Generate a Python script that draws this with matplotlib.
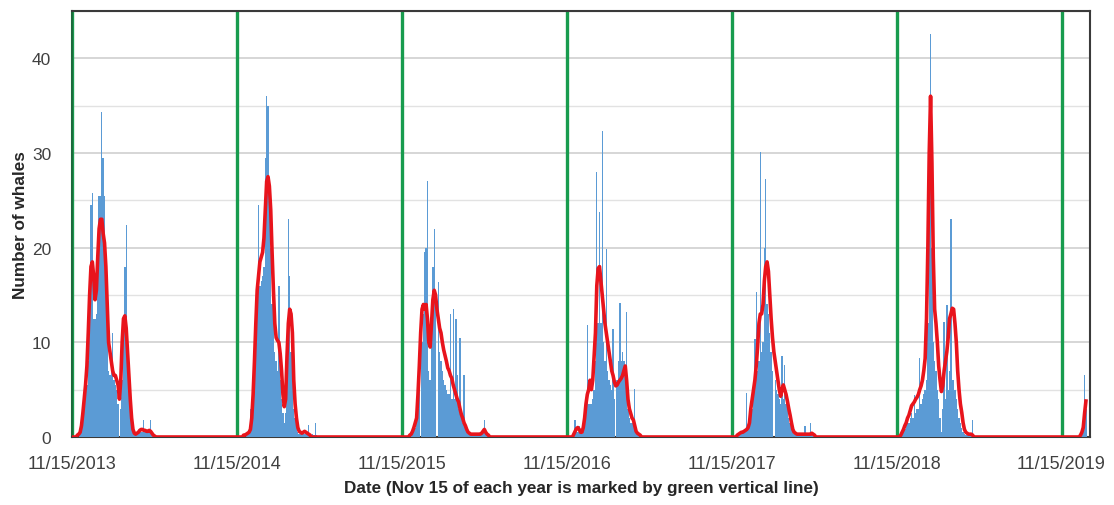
import numpy as np
import matplotlib
matplotlib.use('Agg')
import matplotlib.pyplot as plt
import matplotlib.dates as mdates
from matplotlib.ticker import MultipleLocator

# Whale counts, one value every 3 days.
# Each season starts at Nov 15 of its year plus "first day" offset.
season_years = [2013, 2014, 2015, 2016, 2017, 2018, 2019]
blue_first_day = [12, 15, 18, 15, 12, 9, 42]
red_first_day = [12, 15, 18, 15, 12, 9, 42]
step_days = 3

blue_2013 = [0, 0, 0.3, 1, 2, 3, 4, 5.5, 8, 12, 24.5, 25.8, 12.5, 12.5, 13, 16, 25.5, 25.5,
             34.3, 29.5, 25.5, 17, 12, 7, 6.5, 8, 11, 6, 5.5, 5, 3.5, 0, 3, 6, 12, 18, 22.4,
             7.5, 5, 2.5, 1, 0.5, 0.2, 0.2, 0.3, 0.5, 0.5, 0.5, 0.5, 1.8, 0.5, 0.5, 0.5, 0.5,
             1.8, 0.3, 0.2, 0]
red_2013 = [0.2, 0.3, 0.5, 1.2, 2.5, 4, 5.5, 7.5, 11, 15, 18, 18.5, 17, 14.5, 15.5, 19, 22, 23,
            23, 21.5, 20.5, 18, 14, 10, 9, 8, 7, 6.5, 6.5, 6, 5.5, 4, 6, 10, 12.5, 12.8, 11.5,
            9, 6.5, 4, 2, 0.8, 0.4, 0.3, 0.4, 0.5, 0.7, 0.8, 0.8, 0.7, 0.7, 0.6, 0.6, 0.7, 0.6,
            0.4, 0.2, 0.1]

blue_2014 = [0, 0, 0.2, 0.2, 0.5, 3, 1.5, 3.5, 6, 10, 16, 24.5, 16, 16.5, 17, 18, 29.5, 36, 35,
             26, 20, 14, 12, 9, 8, 7, 16, 6, 4, 2.5, 1.5, 2.5, 6, 23, 17, 9, 6, 3, 2, 1, 0.5,
             0.3, 0.3, 0.3, 0.3, 0.3, 0.3, 0.3, 1.3, 0.2, 0.2, 0.3, 0.2, 1.5, 0.2]
red_2014 = [0.2, 0.2, 0.3, 0.4, 0.5, 0.8, 2, 4.5, 8, 12, 15.5, 17, 18.5, 19, 19.5, 21, 24, 27,
            27.5, 26.5, 24, 19.5, 15.5, 12, 10.5, 10.2, 10, 8.8, 7, 4.5, 3.2, 4, 8.5, 12, 13.5,
            13, 11, 6, 3.5, 2, 1, 0.6, 0.5, 0.4, 0.5, 0.6, 0.5, 0.4, 0.3, 0.2]

blue_2015 = [0, 0.2, 0.3, 0.8, 1, 1.5, 3, 5, 0, 10, 13, 19.5, 20, 27, 7, 6, 10, 18, 22, 14, 0,
             16.4, 9, 8, 7, 6, 5.5, 5, 4.5, 4.5, 13, 4, 13.5, 4, 12.5, 6.5, 3, 10.5, 2, 1.5,
             6.5, 1, 0.5, 0.3, 0.2, 0.2, 0.2, 0.2, 0.2, 0.2, 0.2, 0.2, 0.3, 0.3, 0.4, 1.8, 0.3,
             0.2, 0]
red_2015 = [0.2, 0.3, 0.6, 1, 1.5, 2, 4.5, 7.5, 11, 13.5, 14, 13.5, 14, 12.5, 10, 9.5, 12, 14.5,
            15.5, 15, 13.5, 12.5, 11.5, 11, 10, 9.2, 8.6, 8, 7.3, 7, 6.5, 6.2, 5.5, 5, 4.5, 4,
            3.7, 3, 2.4, 2, 1.5, 1.2, 0.8, 0.5, 0.4, 0.3, 0.3, 0.3, 0.3, 0.3, 0.3, 0.3, 0.3,
            0.4, 0.6, 0.8, 0.5, 0.3, 0.2]

blue_2016 = [0.5, 1.8, 0.5, 0.5, 1.2, 0.3, 0.3, 0.5, 1.5, 3, 11.8, 3.5, 3.5, 3.5, 4, 5, 8, 28,
             12, 23.8, 12, 32.3, 10, 8, 19.9, 7, 6, 5.5, 5, 11.4, 4, 0, 6, 8, 14.2, 8, 9, 8, 6,
             13.2, 3, 2, 1.5, 1.5, 1.2, 5.1, 0.5, 0.3, 0.2, 0.1, 0]
red_2016 = [0.3, 0.6, 0.9, 1, 0.8, 0.5, 0.5, 1, 2, 3.5, 4.5, 5, 6, 5, 6, 8.5, 11, 16, 17.8, 18,
            16.5, 15, 13.5, 12, 11, 10, 9, 8, 7, 6.5, 5.8, 5.4, 5.5, 5.8, 6, 6.2, 6.5, 7, 7.5,
            6, 4, 3, 2.5, 2, 1.8, 1.2, 0.6, 0.4, 0.3, 0.2]

blue_2017 = [0, 0.2, 0.2, 0.3, 0.3, 0.5, 0.5, 4.7, 0.8, 1, 2, 3, 4, 10.4, 15.3, 7, 8, 30.1, 9,
             10, 20, 27.3, 14, 13, 11, 9, 7, 0, 6, 5, 4.5, 4, 3.5, 8.6, 4, 7.6, 3.5, 3, 2, 1.5,
             1, 0.5, 0.3, 0.2, 0.2, 0.2, 0.2, 0.2, 0.2, 0.2, 1.2, 0.2, 0.2, 0.2, 1.5, 0.2, 0.1, 0]
red_2017 = [0.2, 0.3, 0.4, 0.5, 0.5, 0.6, 0.7, 0.8, 1, 1.5, 3, 4, 5, 6, 7.5, 9.5, 12, 13, 13,
            14, 16.5, 18, 18.5, 17.5, 15, 12.5, 10.5, 9, 8, 7, 6, 5, 4.3, 5, 5.5, 5, 4.5, 3.8,
            3, 2.3, 1.5, 0.8, 0.5, 0.4, 0.3, 0.3, 0.3, 0.3, 0.3, 0.3, 0.3, 0.3, 0.3, 0.3, 0.3,
            0.4, 0.3, 0.2]

blue_2018 = [0.2, 0.5, 1, 0.8, 1.5, 2, 1.5, 2, 2.5, 2, 4.4, 2.5, 3, 3, 8.3, 3.5, 4, 4.5, 5, 6,
             12, 30, 42.6, 20, 10, 8, 7, 5, 4, 2, 0.5, 3, 12.1, 4, 13.9, 5, 7, 23, 6, 6, 5, 4,
             3, 2, 1.5, 1, 0.5, 0.3, 0.2, 0.2, 0.2, 0.2, 0.2, 1.8, 0.2, 0]
red_2018 = [0.2, 0.5, 0.8, 1.2, 1.5, 2, 2.3, 2.8, 3.3, 3.5, 3.7, 4, 4.2, 4.5, 5, 5.4, 6, 7, 8.3,
            12.5, 20, 30, 36, 29, 19, 13.5, 12, 10, 7.5, 6, 4.8, 5.4, 7, 8, 9, 10.5, 12.5, 13,
            13.6, 13.5, 12, 10, 7, 5, 3.5, 2.6, 1.5, 0.8, 0.5, 0.4, 0.3, 0.3, 0.3, 0.2]

blue_2019 = [0.3, 0.5, 1.5, 6.5, 3]
red_2019 = [0.2, 0.5, 1, 2.5, 3.8]

blue_seasons = [blue_2013, blue_2014, blue_2015, blue_2016, blue_2017, blue_2018, blue_2019]
red_seasons = [red_2013, red_2014, red_2015, red_2016, red_2017, red_2018, red_2019]

tick_years = [2013, 2014, 2015, 2016, 2017, 2018, 2019]


def season_dates(year, first, n):
    start = np.datetime64(f'{year}-11-15') + np.timedelta64(first, 'D')
    return mdates.date2num(start + np.arange(n) * np.timedelta64(step_days, 'D'))


fig = plt.figure(figsize=(11.14, 5.06), dpi=100)
ax = fig.add_axes([72 / 1114, 68 / 506, 1018 / 1114, 426 / 506])

# blue daily bars
for year, first, vals in zip(season_years, blue_first_day, blue_seasons):
    x = season_dates(year, first, len(vals))
    ax.bar(x, vals, width=step_days, color='#5b9bd5', linewidth=0, zorder=3)

# red running line, sitting on zero between seasons
red_x = [mdates.date2num(np.datetime64('2013-11-15'))]
red_y = [0.0]
for i, (year, first, vals) in enumerate(zip(season_years, red_first_day, red_seasons)):
    x = season_dates(year, first, len(vals))
    red_x.append(x[0] - step_days)
    red_y.append(0.0)
    red_x.extend(x)
    red_y.extend(vals)
    if i < len(season_years) - 1:
        red_x.append(x[-1] + step_days)
        red_y.append(0.0)
ax.plot(red_x, red_y, color='#e8141c', linewidth=2.6, zorder=4)

# green Nov 15 markers
for year in tick_years:
    ax.axvline(mdates.date2num(np.datetime64(f'{year}-11-15')), color='#189c4e',
               linewidth=2.4, zorder=2)

ax.set_xlim(mdates.date2num(np.datetime64('2013-11-15')),
            mdates.date2num(np.datetime64('2020-01-17')))
ax.set_ylim(0, 45)

ax.set_xticks([mdates.date2num(np.datetime64(f'{y}-11-15')) for y in tick_years])
ax.xaxis.set_major_formatter(mdates.DateFormatter('%m/%d/%Y'))
ax.yaxis.set_major_locator(MultipleLocator(10))
ax.yaxis.set_minor_locator(MultipleLocator(5))
ax.grid(axis='y', which='major', color='#cfcfcf', linewidth=1.2, zorder=0)
ax.grid(axis='y', which='minor', color='#e2e2e2', linewidth=1.0, zorder=0)
ax.set_axisbelow(True)

ax.tick_params(axis='x', length=0, pad=13, labelsize=13, labelcolor='#404040')
ax.tick_params(axis='y', which='both', length=0, pad=15, labelsize=12.5, labelcolor='#404040')
for lab in ax.get_xticklabels() + ax.get_yticklabels():
    lab.set_fontfamily('Liberation Sans')

for sp in ax.spines.values():
    sp.set_color('#3a3a3a')
    sp.set_linewidth(1.5)
ax.spines['left'].set_color('#1d6b3c')

ax.set_xlabel('Date (Nov 15 of each year is marked by green vertical line)',
              fontsize=12.3, fontweight='bold', family='Liberation Sans', color='#262626')
ax.set_ylabel('Number of whales', fontsize=12.3, fontweight='bold',
              family='Liberation Sans', color='#262626')
ax.xaxis.set_label_coords(0.5, -0.100)
ax.yaxis.set_label_coords(-0.043, 0.5)

fig.savefig('out.png', dpi=100)
